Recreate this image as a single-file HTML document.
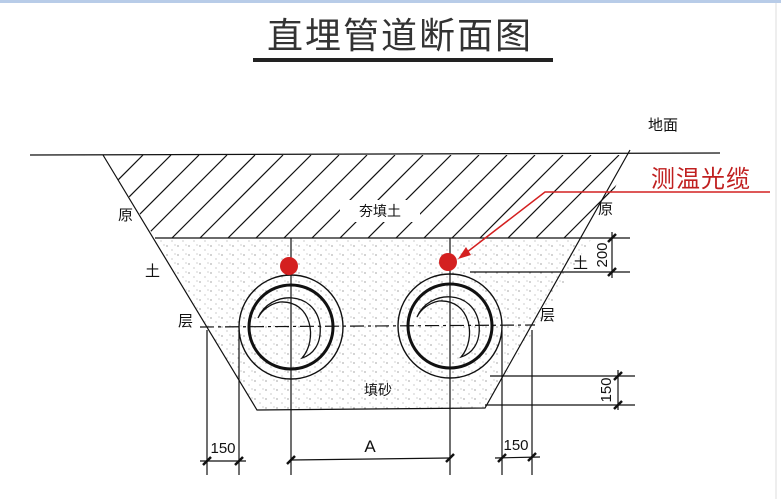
<!DOCTYPE html>
<html><head><meta charset="utf-8"><style>
html,body{margin:0;padding:0;background:#fff;}
svg{display:block;}
text{font-family:"Liberation Sans","Noto Sans CJK SC",sans-serif;}
</style></head><body>
<svg width="781" height="499" viewBox="0 0 781 499" xmlns="http://www.w3.org/2000/svg">
<defs>
<clipPath id="hc"><polygon points="103,155 630,155 592,238 155,238"/></clipPath>
<clipPath id="sc"><polygon points="155,238 592,238 485,408 257,410"/></clipPath>
<pattern id="dots" width="11" height="9" patternUnits="userSpaceOnUse">
<circle cx="2" cy="3" r="0.6" fill="#666"/><circle cx="7" cy="7" r="0.5" fill="#777"/><circle cx="10" cy="2" r="0.5" fill="#888"/>
</pattern>
</defs>
<rect x="0" y="0" width="781" height="3" fill="#b8cce8"/>
<rect x="0" y="3" width="781" height="496" fill="#fff"/>
<line x1="776" y1="3" x2="776" y2="499" stroke="#ddd" stroke-width="1"/>
<text x="400" y="48" font-size="36" text-anchor="middle" fill="#333" letter-spacing="2">直埋管道断面图</text>
<rect x="253" y="58" width="300" height="4" fill="#222"/>
<text x="648" y="130" font-size="15" fill="#111">地面</text>
<rect x="150" y="238" width="450" height="175" fill="url(#dots)" clip-path="url(#sc)"/>
<g clip-path="url(#hc)" stroke="#111" stroke-width="1.2">
<line x1="60" y1="238" x2="143" y2="155"/><line x1="88" y1="238" x2="171" y2="155"/><line x1="116" y1="238" x2="199" y2="155"/><line x1="144" y1="238" x2="227" y2="155"/><line x1="172" y1="238" x2="255" y2="155"/><line x1="200" y1="238" x2="283" y2="155"/><line x1="228" y1="238" x2="311" y2="155"/><line x1="256" y1="238" x2="339" y2="155"/><line x1="284" y1="238" x2="367" y2="155"/><line x1="312" y1="238" x2="395" y2="155"/><line x1="340" y1="238" x2="423" y2="155"/><line x1="368" y1="238" x2="451" y2="155"/><line x1="396" y1="238" x2="479" y2="155"/><line x1="424" y1="238" x2="507" y2="155"/><line x1="452" y1="238" x2="535" y2="155"/><line x1="480" y1="238" x2="563" y2="155"/><line x1="508" y1="238" x2="591" y2="155"/><line x1="536" y1="238" x2="619" y2="155"/><line x1="564" y1="238" x2="647" y2="155"/>
</g>
<rect x="340" y="200" width="80" height="22" fill="#fff"/>
<text x="380" y="216" font-size="14" text-anchor="middle" fill="#111">夯填土</text>
<g stroke="#111" stroke-width="1.2" fill="none">
<line x1="30" y1="155" x2="720" y2="153"/>
<polyline points="103,155 257,410 485,408 630,150"/>
<line x1="155" y1="238" x2="630" y2="238"/>
<line x1="470" y1="272" x2="630" y2="272"/>
<line x1="490" y1="376" x2="635" y2="376"/>
<line x1="485" y1="405" x2="635" y2="405"/>
<line x1="612" y1="232" x2="612" y2="278"/>
<line x1="618" y1="370" x2="618" y2="410"/>
<line x1="207" y1="330" x2="207" y2="475"/>
<line x1="239" y1="330" x2="239" y2="475"/>
<line x1="291" y1="238" x2="291" y2="475"/>
<line x1="450" y1="238" x2="450" y2="475"/>
<line x1="502" y1="330" x2="502" y2="475"/>
<line x1="532" y1="330" x2="532" y2="475"/>
<line x1="200" y1="461" x2="246" y2="461"/>
<line x1="291" y1="460" x2="450" y2="458"/>
<line x1="495" y1="458" x2="540" y2="457"/>
</g>
<g stroke="#111" stroke-width="2.5">
<line x1="203" y1="465" x2="211" y2="457"/><line x1="235" y1="465" x2="243" y2="457"/>
<line x1="287" y1="464" x2="295" y2="456"/><line x1="446" y1="462" x2="454" y2="454"/>
<line x1="498" y1="462" x2="506" y2="454"/><line x1="528" y1="461" x2="536" y2="453"/>
<line x1="608" y1="242" x2="616" y2="234"/><line x1="608" y1="276" x2="616" y2="268"/>
<line x1="614" y1="380" x2="622" y2="372"/><line x1="614" y1="409" x2="622" y2="401"/>
</g>
<line x1="200" y1="327" x2="535" y2="325" stroke="#111" stroke-width="1.2" stroke-dasharray="14,4,3,4"/>
<g fill="none" stroke="#111">
<circle cx="291" cy="327" r="52" stroke-width="1.4"/>
<circle cx="291" cy="327" r="42" stroke-width="3"/>
<path d="M258,318 C270,290 315,290 320,325 C322,345 312,355 302,358 C318,340 312,300 280,302 C270,304 262,310 258,318Z" stroke-width="1.3"/>
<circle cx="450" cy="326" r="52" stroke-width="1.4"/>
<circle cx="450" cy="326" r="42" stroke-width="3"/>
<path d="M417,317 C429,289 474,289 479,324 C481,344 471,354 461,357 C477,339 471,299 439,301 C429,303 421,309 417,317Z" stroke-width="1.3"/>
</g>
<text x="378" y="395" font-size="14" text-anchor="middle" fill="#111">填砂</text>
<g font-size="15" fill="#111">
<text x="118" y="220">原</text><text x="145" y="276">土</text><text x="178" y="326">层</text>
<text x="598" y="214">原</text><text x="573" y="268">土</text><text x="540" y="320">层</text>
<text x="223" y="453" text-anchor="middle">150</text>
<text x="370" y="452" text-anchor="middle" font-size="17">A</text>
<text x="516" y="450" text-anchor="middle">150</text>
<text transform="translate(607,255) rotate(-90)" text-anchor="middle">200</text>
<text transform="translate(611,390) rotate(-90)" text-anchor="middle">150</text>
</g>
<circle cx="289" cy="266" r="9" fill="#d42020"/>
<circle cx="448" cy="262" r="9" fill="#d42020"/>
<polyline points="770,192 545,192 462,256" fill="none" stroke="#d42020" stroke-width="1.5"/>
<polygon points="458,259 466,247 471,255" fill="#d42020"/>
<text x="651" y="187" font-size="24" fill="#c02020" letter-spacing="1">测温光缆</text>
</svg>
</body></html>
